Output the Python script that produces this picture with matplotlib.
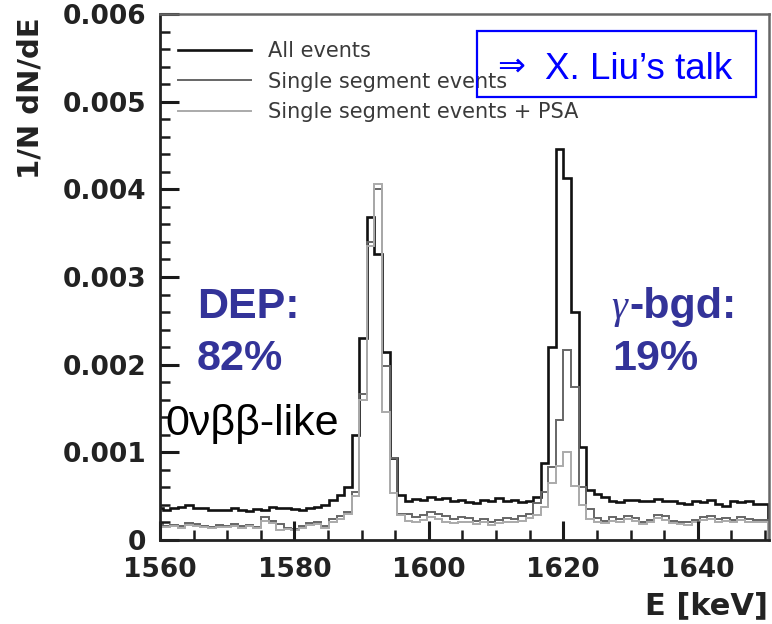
import numpy as np
import matplotlib
matplotlib.use("Agg")
import matplotlib.pyplot as plt
from matplotlib.patches import Rectangle
from matplotlib.ticker import MultipleLocator, FuncFormatter

# energy binning of the spectrum (keV)
bin_lo = 1559.275
bin_width = 1.125

all_events = [
    0.00037, 0.00034, 0.00036, 0.00038, 0.00040, 0.00036, 0.00037, 0.00034, 0.00034, 0.00034,
    0.00037, 0.00034, 0.00033, 0.00035, 0.00034, 0.00038, 0.00037, 0.00036, 0.00035, 0.00034,
    0.00037, 0.00038, 0.00040, 0.00046, 0.00051, 0.00060, 0.00120, 0.00230, 0.00368, 0.00326,
    0.00214, 0.00094, 0.00051, 0.00044, 0.00047, 0.00046, 0.00049, 0.00047, 0.00048, 0.00045,
    0.00046, 0.00043, 0.00042, 0.00046, 0.00044, 0.00048, 0.00044, 0.00046, 0.00043, 0.00044,
    0.00049, 0.00088, 0.00220, 0.00446, 0.00413, 0.00260, 0.00106, 0.00057, 0.00052, 0.00049,
    0.00045, 0.00043, 0.00046, 0.00046, 0.00044, 0.00044, 0.00047, 0.00045, 0.00044, 0.00042,
    0.00041, 0.00044, 0.00043, 0.00046, 0.00041, 0.00039, 0.00044, 0.00043, 0.00045, 0.00041, 0.00041,
]

single_seg = [
    0.00018, 0.00016, 0.00017, 0.00016, 0.00019, 0.00018, 0.00016, 0.00015, 0.00017, 0.00016,
    0.00018, 0.00016, 0.00017, 0.00015, 0.00026, 0.00022, 0.00018, 0.00014, 0.00012, 0.00016,
    0.00019, 0.00020, 0.00016, 0.00024, 0.00027, 0.00032, 0.00055, 0.00166, 0.00340, 0.00400,
    0.00198, 0.00094, 0.00030, 0.00030, 0.00026, 0.00028, 0.00032, 0.00030, 0.00027, 0.00024,
    0.00026, 0.00025, 0.00022, 0.00024, 0.00021, 0.00023, 0.00025, 0.00024, 0.00027, 0.00030,
    0.00042, 0.00055, 0.00083, 0.00137, 0.00217, 0.00175, 0.00060, 0.00035, 0.00025, 0.00022,
    0.00026, 0.00024, 0.00027, 0.00025, 0.00021, 0.00023, 0.00029, 0.00027, 0.00022, 0.00020,
    0.00020, 0.00023, 0.00026, 0.00027, 0.00024, 0.00025, 0.00023, 0.00026, 0.00024, 0.00023, 0.00023,
]

single_psa = [
    0.00015, 0.00015, 0.00016, 0.00014, 0.00017, 0.00016, 0.00015, 0.00014, 0.00015, 0.00015,
    0.00016, 0.00014, 0.00016, 0.00014, 0.00022, 0.00019, 0.00011, 0.00012, 0.00011, 0.00014,
    0.00017, 0.00018, 0.00014, 0.00020, 0.00024, 0.00030, 0.00050, 0.00160, 0.00335, 0.00406,
    0.00146, 0.00054, 0.00028, 0.00022, 0.00020, 0.00023, 0.00026, 0.00024, 0.00021, 0.00019,
    0.00021, 0.00020, 0.00018, 0.00020, 0.00017, 0.00019, 0.00021, 0.00020, 0.00022, 0.00025,
    0.00028, 0.00038, 0.00065, 0.00084, 0.00100, 0.00062, 0.00040, 0.00024, 0.00021, 0.00019,
    0.00022, 0.00021, 0.00024, 0.00022, 0.00018, 0.00020, 0.00025, 0.00023, 0.00019, 0.00018,
    0.00017, 0.00020, 0.00023, 0.00024, 0.00021, 0.00022, 0.00020, 0.00023, 0.00021, 0.00020, 0.00020,
]

labels = ["All events", "Single segment events", "Single segment events + PSA"]
xticks = [1560, 1580, 1600, 1620, 1640]
yticks = [0, 0.001, 0.002, 0.003, 0.004, 0.005, 0.006]

edges = bin_lo + bin_width * np.arange(len(all_events) + 1)

plt.rcParams["font.family"] = ["DejaVu Sans"]
W, H = 772, 624
fig = plt.figure(figsize=(W / 100, H / 100), dpi=100)
ax = fig.add_axes([160 / W, 1 - 540 / H, 609 / W, 526 / H])

ax.stairs(all_events, edges, color="#111111", lw=1.9, label=labels[0])
ax.stairs(single_seg, edges, color="#666666", lw=1.4, label=labels[1])
ax.stairs(single_psa, edges, color="#aaaaaa", lw=1.4, label=labels[2])

ax.set_xlim(1560, 1650.6)
ax.set_ylim(0, 0.006)
ax.set_xticks(xticks)
ax.set_yticks(yticks)
ax.xaxis.set_minor_locator(MultipleLocator(5))
ax.yaxis.set_minor_locator(MultipleLocator(0.0002))
ax.yaxis.set_major_formatter(FuncFormatter(lambda v, p: "0" if v == 0 else "%.3f" % v))

ax.tick_params(which="both", direction="in", left=True, bottom=True, top=False, right=False)
ax.tick_params(which="major", length=14, width=2.2, color="#1a1a1a",
               labelsize=19, labelcolor="#222222")
ax.tick_params(which="minor", length=7, width=1.8, color="#1a1a1a")
ax.tick_params(axis="x", which="major", pad=12)
ax.tick_params(axis="y", which="major", pad=10)
for lab in ax.get_xticklabels() + ax.get_yticklabels():
    lab.set_fontweight("bold")

for side in ["left", "bottom"]:
    ax.spines[side].set_linewidth(2.0)
    ax.spines[side].set_color("#222222")
for side in ["top", "right"]:
    ax.spines[side].set_linewidth(1.8)
    ax.spines[side].set_color("#666666")

ax.set_ylabel("1/N dN/dE", fontsize=21, fontweight="bold", color="#222222")
ax.yaxis.set_label_coords(-0.189, 0.84)
ax.set_xlabel("E [keV]", fontsize=22, fontweight="bold", color="#222222")
ax.xaxis.label.set_ha("right")
ax.xaxis.set_label_coords(0.998, -0.098)

ax.legend(loc="upper left", bbox_to_anchor=(0.03, 0.948), frameon=False,
          fontsize=15, handlelength=3.5, handletextpad=0.8, labelspacing=0.5,
          borderaxespad=0, borderpad=0, labelcolor="#3a3a3a")


def px(x, y):
    return x / W, 1 - y / H


# talk reference box
fig.patches.append(Rectangle(px(477, 97), 279 / W, 66 / H, transform=fig.transFigure,
                             fill=False, edgecolor="#0000ff", lw=1.6, zorder=5))
fig.text(*px(497, 66), "\u21d2", color="#0000ff", fontsize=24, va="center", ha="left",
         family=["DejaVu Sans"], zorder=6)
fig.text(*px(545, 79), "X. Liu\u2019s talk", color="#0000ff", fontsize=26.5,
         va="baseline", ha="left", family=["Liberation Sans", "DejaVu Sans"], zorder=6)

# peak annotations
blue = "#333399"
fig.text(*px(197, 318), "DEP:", color=blue, fontsize=31, fontweight="bold",
         va="baseline", family=["Liberation Sans"])
fig.text(*px(197, 370), "82%", color=blue, fontsize=31, fontweight="bold",
         va="baseline", family=["Liberation Sans"])
fig.text(*px(611, 318), "\u03b3", color=blue, fontsize=29, style="italic",
         va="baseline", family=["Liberation Serif"])
fig.text(*px(629, 318), "-bgd:", color=blue, fontsize=31, fontweight="bold",
         va="baseline", family=["Liberation Sans"])
fig.text(*px(612, 370), "19%", color=blue, fontsize=31, fontweight="bold",
         va="baseline", family=["Liberation Sans"])
fig.text(*px(165, 435), "0\u03bd\u03b2\u03b2-like", color="black", fontsize=31,
         va="baseline", family=["Liberation Sans", "DejaVu Sans"])

fig.savefig("out.png", dpi=100)
